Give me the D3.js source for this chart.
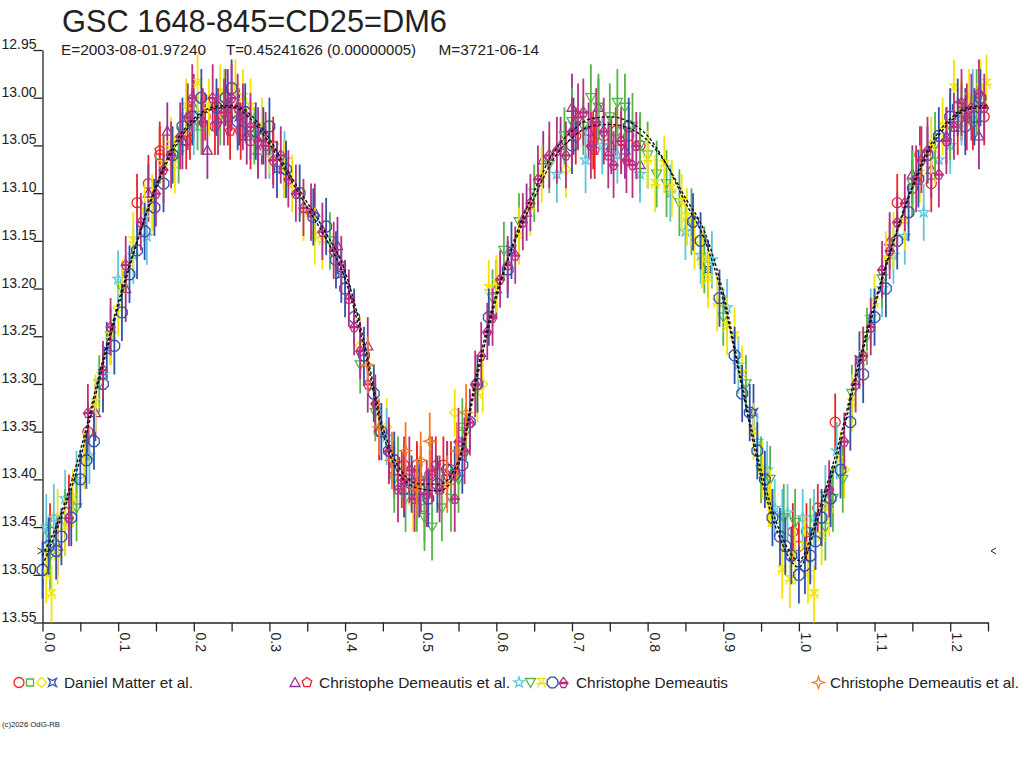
<!DOCTYPE html>
<html>
<head>
<meta charset="utf-8">
<script src="https://cdn.jsdelivr.net/npm/d3@7"></script>
<style>
html,body{margin:0;padding:0;background:#fff;}
svg{display:block;}
text{font-family:"Liberation Sans",Arial,sans-serif;fill:#222;}
</style>
</head>
<body>
<svg id="chart" width="1024" height="768"></svg>
<script>
// ---------- DATA ----------
const titleText = "GSC 1648-845=CD25=DM6";
const subtitleParts = ["E=2003-08-01.97240", "T=0.45241626 (0.00000005)", "M=3721-06-14"];
const xTickValues = [0,0.05,0.1,0.15,0.2,0.25,0.3,0.35,0.4,0.45,0.5,0.55,0.6,0.65,0.7,0.75,0.8,0.85,0.9,0.95,1.0,1.05,1.1,1.15,1.2,1.25];
const xTickLabels = ["0.0","","0.1","","0.2","","0.3","","0.4","","0.5","","0.6","","0.7","","0.8","","0.9","","1.0","","1.1","","1.2",""];
const yTickValues = [12.95,13.00,13.05,13.10,13.15,13.20,13.25,13.30,13.35,13.40,13.45,13.50,13.55];
const yTickLabels = ["12.95","13.00","13.05","13.10","13.15","13.20","13.25","13.30","13.35","13.40","13.45","13.50","13.55"];
const minMarkerMag = 13.475;

// [phase, magnitude, error]
const matterCircle = [[0.010,13.455,0.030],[0.035,13.425,0.030],[0.060,13.350,0.030],[0.125,13.110,0.030],[0.155,13.060,0.030],[0.190,13.045,0.030],[0.215,13.020,0.025],[0.228,13.030,0.030],[0.262,13.035,0.030],[0.305,13.060,0.030],[0.445,13.350,0.030],[0.478,13.385,0.030],[0.495,13.385,0.025],[0.512,13.395,0.025],[0.530,13.385,0.030],[0.705,13.040,0.030],[0.742,13.040,0.025],[0.758,13.035,0.025],[0.775,13.040,0.030],[0.992,13.455,0.030],[1.010,13.455,0.030],[1.025,13.430,0.025],[1.048,13.340,0.030],[1.130,13.110,0.030],[1.150,13.095,0.030],[1.160,13.060,0.030],[1.230,13.025,0.030],[1.245,13.020,0.030],
  [0.140,13.090,0.030],[0.245,13.020,0.030],[0.275,13.045,0.030],[0.465,13.390,0.030],[0.540,13.390,0.030],[0.728,13.045,0.030],[0.790,13.050,0.030],[1.000,13.470,0.030],[1.175,13.090,0.030],[1.210,13.030,0.030]];
const matterSquare = [[0.470,13.385,0.030],[0.505,13.430,0.035],[0.210,13.030,0.030],[0.555,13.345,0.030]];
const matterDiamond = [[0.020,13.440,0.030],[0.100,13.220,0.030],[0.175,13.070,0.030],[0.240,13.000,0.030],[0.330,13.090,0.030],[0.420,13.260,0.030],[0.455,13.345,0.030],[0.490,13.425,0.030],[0.545,13.330,0.025],[0.582,13.300,0.030],[0.692,13.075,0.030],[0.960,13.420,0.030],[1.060,13.390,0.030],[1.180,13.060,0.030]];
const matterStar4 = [[0.085,13.265,0.030],[0.260,13.020,0.030],[0.310,13.075,0.030],[0.395,13.185,0.030],[0.620,13.160,0.030],[0.702,13.030,0.030],[0.880,13.180,0.030],[0.940,13.330,0.030],[1.080,13.275,0.030],[1.220,13.020,0.030]];
const demEtAlTriangle = [[0.020,13.470,0.030],[0.070,13.330,0.030],[0.110,13.200,0.035],[0.140,13.100,0.030],[0.165,13.035,0.030],[0.185,13.045,0.030],[0.200,13.010,0.035],[0.218,13.055,0.030],[0.245,13.005,0.035],[0.270,13.040,0.030],[0.285,13.055,0.030],[0.320,13.075,0.030],[0.360,13.120,0.030],[0.390,13.155,0.030],[0.430,13.260,0.030],[0.600,13.200,0.030],[0.640,13.120,0.030],[0.662,13.065,0.030],[0.685,13.050,0.030],[0.700,13.010,0.035],[0.722,13.035,0.030],[0.735,13.010,0.030],[0.752,13.050,0.030],[0.770,13.055,0.030],[0.790,13.070,0.030],[1.120,13.150,0.030],[1.150,13.080,0.030],[1.175,13.075,0.030],[1.195,13.040,0.030],[1.215,13.015,0.030],[1.238,13.040,0.035]];
const demEtAlPentagon = [[0.155,13.055,0.030],[0.195,13.035,0.030],[0.248,13.035,0.030],[0.290,13.040,0.030],[0.305,13.050,0.030],[0.475,13.400,0.030],[0.495,13.395,0.030],[0.520,13.385,0.030],[0.730,13.055,0.030],[0.765,13.045,0.030]];
const demStar = [[0.005,13.450,0.035],[0.030,13.420,0.030],[0.062,13.375,0.030],[0.100,13.190,0.030],[0.138,13.145,0.030],[0.320,13.065,0.030],[0.455,13.355,0.030],[0.680,13.080,0.030],[0.718,13.065,0.035],[0.760,13.060,0.030],[0.830,13.100,0.030],[0.885,13.170,0.030],[0.905,13.220,0.030],[0.945,13.360,0.030],[0.968,13.430,0.030],[0.985,13.435,0.030],[1.005,13.440,0.030],[1.050,13.370,0.030],[1.110,13.200,0.030],[1.140,13.145,0.030],[1.165,13.120,0.030],[1.200,13.050,0.030],[1.230,13.000,0.030],
  [0.015,13.440,0.035],[0.045,13.400,0.030],[0.080,13.290,0.030],[0.120,13.165,0.030],[0.200,13.030,0.030],[0.300,13.055,0.030],[0.740,13.050,0.030],[0.790,13.080,0.030],[0.850,13.140,0.030],[0.870,13.165,0.030],[0.920,13.280,0.030],[0.958,13.390,0.030],[0.978,13.440,0.030],[1.020,13.440,0.030],[1.035,13.415,0.030],[1.095,13.230,0.030],[1.125,13.165,0.030],[1.185,13.065,0.030],[1.215,13.020,0.030]];
const demInvTriangle = [[0.010,13.480,0.035],[0.045,13.430,0.035],[0.075,13.300,0.030],[0.105,13.200,0.030],[0.180,13.060,0.030],[0.235,13.020,0.030],[0.380,13.150,0.030],[0.440,13.330,0.030],[0.480,13.420,0.035],[0.505,13.440,0.035],[0.528,13.430,0.035],[0.540,13.420,0.035],[0.560,13.350,0.030],[0.610,13.160,0.030],[0.650,13.100,0.030],[0.690,13.040,0.030],[0.715,13.030,0.030],[0.735,13.010,0.035],[0.750,13.020,0.035],[0.770,13.010,0.035],[0.790,13.050,0.035],[0.812,13.080,0.035],[0.842,13.110,0.035],[0.858,13.130,0.035],[0.900,13.230,0.030],[0.962,13.400,0.035],[0.995,13.445,0.035],[1.035,13.450,0.035],[1.058,13.400,0.035],[1.090,13.250,0.030],[1.180,13.050,0.035],[1.235,13.005,0.035],
  [0.030,13.445,0.035],[0.090,13.250,0.030],[0.150,13.090,0.030],[0.205,13.025,0.030],[0.280,13.040,0.030],[0.420,13.280,0.030],[0.465,13.400,0.035],[0.495,13.420,0.035],[0.515,13.450,0.035],[0.550,13.400,0.035],[0.595,13.210,0.030],[0.630,13.130,0.030],[0.670,13.070,0.030],[0.700,13.025,0.035],[0.725,13.000,0.035],[0.760,13.005,0.035],[0.780,13.030,0.035],[0.800,13.060,0.035],[0.825,13.090,0.035],[0.875,13.170,0.035],[0.930,13.300,0.030],[0.950,13.390,0.035],[0.980,13.440,0.035],[1.015,13.455,0.035],[1.045,13.420,0.035],[1.070,13.310,0.030],[1.110,13.190,0.030],[1.150,13.090,0.035],[1.200,13.030,0.035]];
const demCross = [[0.005,13.500,0.030],[0.012,13.520,0.030],[0.030,13.450,0.030],[0.055,13.380,0.030],[0.090,13.250,0.030],[0.120,13.150,0.030],[0.145,13.110,0.030],[0.170,13.050,0.030],[0.205,12.985,0.030],[0.220,13.010,0.030],[0.255,12.990,0.030],[0.275,13.010,0.030],[0.300,13.050,0.030],[0.345,13.120,0.030],[0.370,13.150,0.030],[0.590,13.200,0.030],[0.630,13.145,0.030],[0.660,13.080,0.030],[0.810,13.090,0.030],[0.822,13.070,0.030],[0.845,13.110,0.030],[0.862,13.150,0.030],[0.872,13.170,0.030],[0.892,13.215,0.030],[0.905,13.240,0.030],[0.925,13.290,0.030],[0.952,13.390,0.030],[0.978,13.495,0.030],[0.988,13.505,0.030],[1.008,13.470,0.030],[1.020,13.520,0.030],[1.040,13.430,0.030],[1.070,13.320,0.030],[1.100,13.215,0.030],[1.125,13.150,0.030],[1.160,13.080,0.030],[1.190,13.030,0.030],[1.205,12.990,0.030],[1.225,13.000,0.030],[1.248,12.985,0.030],
  [0.020,13.480,0.030],[0.040,13.420,0.030],[0.070,13.320,0.030],[0.105,13.200,0.030],[0.135,13.120,0.030],[0.160,13.070,0.030],[0.190,13.010,0.030],[0.235,12.995,0.030],[0.265,13.000,0.030],[0.290,13.030,0.030],[0.320,13.075,0.030],[0.360,13.145,0.030],[0.575,13.310,0.030],[0.600,13.195,0.030],[0.645,13.115,0.030],[0.800,13.065,0.030],[0.832,13.095,0.030],[0.852,13.125,0.030],[0.880,13.190,0.030],[0.915,13.250,0.030],[0.940,13.350,0.030],[0.962,13.420,0.030],[0.995,13.480,0.030],[1.012,13.500,0.030],[1.030,13.460,0.030],[1.055,13.380,0.030],[1.085,13.270,0.030],[1.115,13.170,0.030],[1.140,13.130,0.030],[1.175,13.050,0.030],[1.215,13.010,0.030],[1.240,12.990,0.030]];
const demOctagon = [[0.000,13.495,0.030],[0.008,13.470,0.030],[0.018,13.475,0.030],[0.038,13.440,0.030],[0.050,13.400,0.030],[0.068,13.360,0.030],[0.080,13.300,0.030],[0.095,13.260,0.030],[0.115,13.185,0.030],[0.135,13.140,0.030],[0.160,13.090,0.030],[0.185,13.030,0.030],[0.210,13.000,0.030],[0.230,13.010,0.030],[0.250,12.990,0.030],[0.268,13.015,0.030],[0.282,13.035,0.030],[0.300,13.030,0.030],[0.340,13.100,0.030],[0.375,13.135,0.030],[0.400,13.200,0.030],[0.425,13.270,0.030],[0.448,13.350,0.030],[0.465,13.380,0.030],[0.488,13.405,0.030],[0.510,13.420,0.030],[0.535,13.390,0.030],[0.555,13.385,0.030],[0.575,13.300,0.030],[0.615,13.180,0.030],[0.700,13.050,0.030],[0.775,13.030,0.030],[0.870,13.150,0.030],[0.915,13.270,0.030],[0.935,13.330,0.030],[0.955,13.400,0.030],[0.975,13.460,0.030],[0.990,13.480,0.030],[1.000,13.500,0.030],[1.015,13.480,0.030],[1.030,13.440,0.030],[1.055,13.390,0.030],[1.085,13.290,0.030],[1.115,13.200,0.030],[1.145,13.120,0.030],[1.170,13.060,0.030],[1.200,13.020,0.030],[1.220,13.030,0.030],[1.240,13.000,0.030],
  [0.025,13.460,0.030],[0.058,13.380,0.030],[0.105,13.225,0.030],[0.125,13.160,0.030],[0.148,13.115,0.030],[0.172,13.060,0.030],[0.198,13.020,0.030],[0.242,13.000,0.030],[0.258,13.025,0.030],[0.292,13.040,0.030],[0.322,13.075,0.030],[0.358,13.125,0.030],[0.388,13.170,0.030],[0.412,13.230,0.030],[0.438,13.310,0.030],[0.458,13.370,0.030],[0.478,13.410,0.030],[0.498,13.410,0.030],[0.522,13.405,0.030],[0.545,13.395,0.030],[0.565,13.340,0.030],[0.590,13.230,0.030],[0.860,13.130,0.030],[0.895,13.210,0.030],[0.925,13.310,0.030],[0.945,13.370,0.030],[0.965,13.440,0.030],[0.982,13.470,0.030],[1.008,13.490,0.030],[1.022,13.465,0.030],[1.042,13.420,0.030],[1.068,13.340,0.030],[1.100,13.230,0.030],[1.130,13.150,0.030],[1.158,13.085,0.030],[1.185,13.040,0.030],[1.210,13.010,0.030],[1.232,13.020,0.030]];
const demRadiation = [[0.060,13.330,0.030],[0.090,13.240,0.030],[0.130,13.130,0.030],[0.150,13.100,0.035],[0.170,13.060,0.035],[0.192,13.020,0.035],[0.212,13.025,0.035],[0.225,13.000,0.035],[0.240,13.015,0.035],[0.258,13.010,0.035],[0.275,13.030,0.035],[0.295,13.050,0.035],[0.315,13.060,0.030],[0.335,13.100,0.030],[0.355,13.120,0.030],[0.370,13.140,0.030],[0.385,13.160,0.030],[0.405,13.210,0.030],[0.420,13.265,0.030],[0.440,13.320,0.030],[0.458,13.370,0.035],[0.470,13.410,0.035],[0.485,13.390,0.035],[0.500,13.400,0.035],[0.515,13.390,0.035],[0.525,13.410,0.035],[0.545,13.420,0.035],[0.550,13.360,0.035],[0.565,13.340,0.035],[0.580,13.270,0.035],[0.595,13.230,0.030],[0.605,13.190,0.030],[0.625,13.165,0.030],[0.645,13.110,0.030],[0.670,13.060,0.035],[0.692,13.060,0.035],[0.708,13.020,0.035],[0.725,13.050,0.035],[0.742,13.035,0.035],[0.755,13.070,0.035],[0.772,13.065,0.035],[0.785,13.050,0.035],[1.040,13.410,0.030],[1.075,13.300,0.030],[1.095,13.240,0.030],[1.110,13.180,0.030],[1.130,13.130,0.030],[1.155,13.085,0.035],[1.170,13.055,0.035],[1.185,13.080,0.035],[1.205,13.030,0.035],[1.215,13.005,0.035],[1.228,13.010,0.035],[1.245,13.010,0.035],
  [0.035,13.440,0.030],[0.080,13.285,0.030],[0.110,13.175,0.030],[0.160,13.075,0.035],[0.182,13.040,0.035],[0.198,13.000,0.035],[0.232,13.025,0.035],[0.250,13.000,0.035],[0.265,13.020,0.035],[0.285,13.045,0.035],[0.305,13.065,0.030],[0.325,13.085,0.030],[0.345,13.115,0.030],[0.395,13.175,0.030],[0.412,13.240,0.030],[0.430,13.300,0.030],[0.478,13.400,0.035],[0.492,13.420,0.035],[0.508,13.415,0.035],[0.535,13.395,0.035],[0.558,13.370,0.035],[0.572,13.300,0.035],[0.588,13.245,0.030],[0.615,13.175,0.030],[0.635,13.130,0.030],[0.655,13.085,0.035],[0.680,13.055,0.035],[0.700,13.035,0.035],[0.715,13.015,0.035],[0.732,13.025,0.035],[0.748,13.060,0.035],[0.765,13.045,0.035],[0.780,13.070,0.035],[1.060,13.360,0.030],[1.085,13.270,0.030],[1.120,13.160,0.030],[1.140,13.110,0.030],[1.162,13.065,0.035],[1.195,13.045,0.035],[1.222,13.020,0.035],[1.238,12.995,0.035]];
const demEtAl2Star = [[0.430,13.280,0.030],[0.445,13.345,0.030],[0.462,13.380,0.030],[0.480,13.370,0.030],[0.495,13.410,0.030],[0.500,13.380,0.030],[0.512,13.360,0.030],[0.535,13.405,0.030],[0.548,13.370,0.030],[0.560,13.330,0.030]];

// fit curves (phase, magnitude)
const fitPhase = [0.000,0.025,0.050,0.075,0.100,0.125,0.150,0.175,0.200,0.225,0.250,0.275,0.300,0.325,0.350,0.375,0.400,0.425,0.450,0.475,0.500,0.525,0.550,0.575,0.600,0.625,0.650,0.675,0.700,0.725,0.750,0.775,0.800,0.825,0.850,0.875,0.900,0.925,0.950,0.975,1.000,1.025,1.050,1.075,1.100,1.125,1.150,1.175,1.200,1.225,1.250];
const fitMagA = [13.480,13.435,13.370,13.290,13.215,13.150,13.092,13.048,13.022,13.010,13.008,13.018,13.043,13.078,13.110,13.142,13.182,13.255,13.345,13.392,13.405,13.405,13.380,13.285,13.205,13.150,13.105,13.065,13.042,13.030,13.028,13.032,13.045,13.070,13.105,13.140,13.205,13.300,13.390,13.455,13.485,13.435,13.370,13.290,13.215,13.150,13.092,13.048,13.022,13.010,13.008];
const fitMagB = [13.490,13.440,13.378,13.296,13.220,13.152,13.095,13.052,13.025,13.012,13.010,13.022,13.048,13.082,13.115,13.148,13.190,13.262,13.352,13.398,13.410,13.412,13.385,13.292,13.210,13.146,13.098,13.058,13.035,13.022,13.020,13.025,13.040,13.070,13.110,13.148,13.212,13.305,13.398,13.462,13.492,13.442,13.378,13.296,13.220,13.152,13.095,13.052,13.025,13.012,13.010];

// ---------- SHAPES / SERIES ----------
const shapes = {
  circle: "M5,0A5,5 0 1,1 -5,0A5,5 0 1,1 5,0Z",
  square: "M-3.5,-3.5H3.5V3.5H-3.5Z",
  diamond: "M0,-5L5,0L0,5L-5,0Z",
  star4: "M-4,-4L0,-2L4,-4L2,0L4,4L0,2L-4,4L-2,0Z",
  triangle: "M0,-5L5,4L-5,4Z",
  pentagon: "M0,-5L4.76,-1.55L2.94,4.05L-2.94,4.05L-4.76,-1.55Z",
  star5: "M0,-5.5L1.3,-1.8L5.2,-1.7L2.1,0.7L3.2,4.5L0,2.2L-3.2,4.5L-2.1,0.7L-5.2,-1.7L-1.3,-1.8Z",
  invTriangle: "M-5,-4L5,-4L0,5Z",
  cross: "M-5,-4H5M-3,-4L0,1L3,-4M-5,1H5M-2,1L-4,5M2,1L4,5",
  octagon: "M2.2,-5.3L5.3,-2.2L5.3,2.2L2.2,5.3L-2.2,5.3L-5.3,2.2L-5.3,-2.2L-2.2,-5.3Z",
  radiation: "M0,-5L-4,0H4Z M-5,1H5 M-4,1L-2,5H2L4,1",
  star4b: "M0,-6L1.5,-1.5L6,0L1.5,1.5L0,6L-1.5,1.5L-6,0L-1.5,-1.5Z"
};
const RED="#ee2222", GREEN="#55b545", YELLOW="#f2e400", BLUE="#3050aa", PURPLE="#9c2f8e", MAGENTA="#b8307f", CYAN="#5ec6da", ORANGE="#f47a20";

const series = [
  {data: matterCircle, shape:"circle", color:RED},
  {data: matterSquare, shape:"square", color:GREEN},
  {data: matterDiamond, shape:"diamond", color:YELLOW},
  {data: matterStar4, shape:"star4", color:BLUE},
  {data: demEtAlTriangle, shape:"triangle", color:PURPLE},
  {data: demEtAlPentagon, shape:"pentagon", color:RED},
  {data: demStar, shape:"star5", color:CYAN},
  {data: demInvTriangle, shape:"invTriangle", color:GREEN},
  {data: demCross, shape:"cross", color:YELLOW},
  {data: demOctagon, shape:"octagon", color:BLUE},
  {data: demRadiation, shape:"radiation", color:MAGENTA},
  {data: demEtAl2Star, shape:"star4b", color:ORANGE}
];

const legendGroups = [
  {label:"Daniel Matter et al.", items:[0,1,2,3], sx:[19,30,41.5,52.5], tx:64, tw:129},
  {label:"Christophe Demeautis et al.", items:[4,5], sx:[295,307], tx:319, tw:191},
  {label:"Christophe Demeautis", items:[6,7,8,9,10], sx:[519,530.5,541.5,552.5,563.5], tx:576, tw:152},
  {label:"Christophe Demeautis et al.", items:[11], sx:[818.5], tx:830, tw:189}
];

// ---------- DRAW ----------
const svg = d3.select("#chart");
const x = d3.scaleLinear().domain([0,1.25]).range([42.5,988]);
const y = d3.scaleLinear().domain([12.95,13.55]).range([50,622.5]);

// title
svg.append("text").attr("x",62).attr("y",32).attr("font-size",30.5)
  .attr("textLength",385).attr("lengthAdjust","spacingAndGlyphs").text(titleText);
const subX = [61,226,438.5], subW = [145,190,100.5];
subtitleParts.forEach((t,i)=>{
  svg.append("text").attr("x",subX[i]).attr("y",55).attr("font-size",14)
    .attr("textLength",subW[i]).attr("lengthAdjust","spacingAndGlyphs").text(t);
});

// axes
const xAxis = d3.axisBottom(x).tickValues(xTickValues).tickSize(9).tickSizeOuter(0)
  .tickFormat((d,i)=>xTickLabels[i]);
const gx = svg.append("g").attr("transform",`translate(0,${y(13.55)})`).call(xAxis);
gx.selectAll(".tick text").attr("transform","rotate(90)").attr("x",10).attr("y",-1.5)
  .attr("dy",0).attr("text-anchor","start").attr("font-size",14)
  .style("font-family","'Liberation Sans',Arial,sans-serif").attr("fill","#222");
gx.selectAll("path,line").attr("stroke","#222").attr("stroke-width",1.3);

const yAxis = d3.axisLeft(y).tickValues(yTickValues).tickSize(9).tickSizeOuter(0)
  .tickFormat((d,i)=>yTickLabels[i]);
const gy = svg.append("g").attr("transform",`translate(${x(0)},0)`).call(yAxis);
gy.selectAll(".tick text").attr("x",-6).attr("y",-1.5).attr("dy",0)
  .attr("text-anchor","end").attr("font-size",14)
  .style("font-family","'Liberation Sans',Arial,sans-serif").attr("fill","#222");
gy.selectAll("path,line").attr("stroke","#222").attr("stroke-width",1.3);

// minimum markers
const my = y(minMarkerMag);
svg.append("path").attr("d",`M${x(0)-5},${my-3}L${x(0)},${my}L${x(0)-5},${my+3}`)
  .attr("fill","none").attr("stroke","#222").attr("stroke-width",1);
svg.append("path").attr("d",`M${x(1.25)+8},${my-3}L${x(1.25)+3},${my}L${x(1.25)+8},${my+3}`)
  .attr("fill","none").attr("stroke","#222").attr("stroke-width",1);

// data
const plot = svg.append("g");
series.forEach(s=>{
  const g = plot.append("g");
  g.selectAll("line").data(s.data).join("line")
    .attr("x1",d=>x(d[0])).attr("x2",d=>x(d[0]))
    .attr("y1",d=>y(d[1]-d[2])).attr("y2",d=>y(d[1]+d[2]))
    .attr("stroke",s.color).attr("stroke-width",1.8);
  g.selectAll("path").data(s.data).join("path")
    .attr("d",shapes[s.shape])
    .attr("transform",d=>`translate(${x(d[0])},${y(d[1])})`)
    .attr("fill","none").attr("stroke",s.color).attr("stroke-width",1.3);
});

// fit curves
const fitLine = (mags)=>d3.line().x((d,i)=>x(fitPhase[i])).y((d)=>y(d)).curve(d3.curveMonotoneX)(mags);
[fitMagA, fitMagB].forEach(m=>{
  svg.append("path").attr("d",fitLine(m)).attr("fill","none")
    .attr("stroke","#111").attr("stroke-width",1.4).attr("stroke-dasharray","3,2");
});

// legend
const ly = 682.5;
legendGroups.forEach(gr=>{
  gr.items.forEach((si,k)=>{
    svg.append("path").attr("d",shapes[series[si].shape])
      .attr("transform",`translate(${gr.sx[k]},${ly})`)
      .attr("fill","none").attr("stroke",series[si].color).attr("stroke-width",1.3);
  });
  svg.append("text").attr("x",gr.tx).attr("y",ly+5).attr("font-size",15)
    .attr("textLength",gr.tw).attr("lengthAdjust","spacingAndGlyphs").text(gr.label);
});

// copyright
svg.append("text").attr("x",2).attr("y",727).attr("font-size",7.5)
  .attr("textLength",58).attr("lengthAdjust","spacingAndGlyphs").text("(c)2026 OdG-RB");
</script>
</body>
</html>
